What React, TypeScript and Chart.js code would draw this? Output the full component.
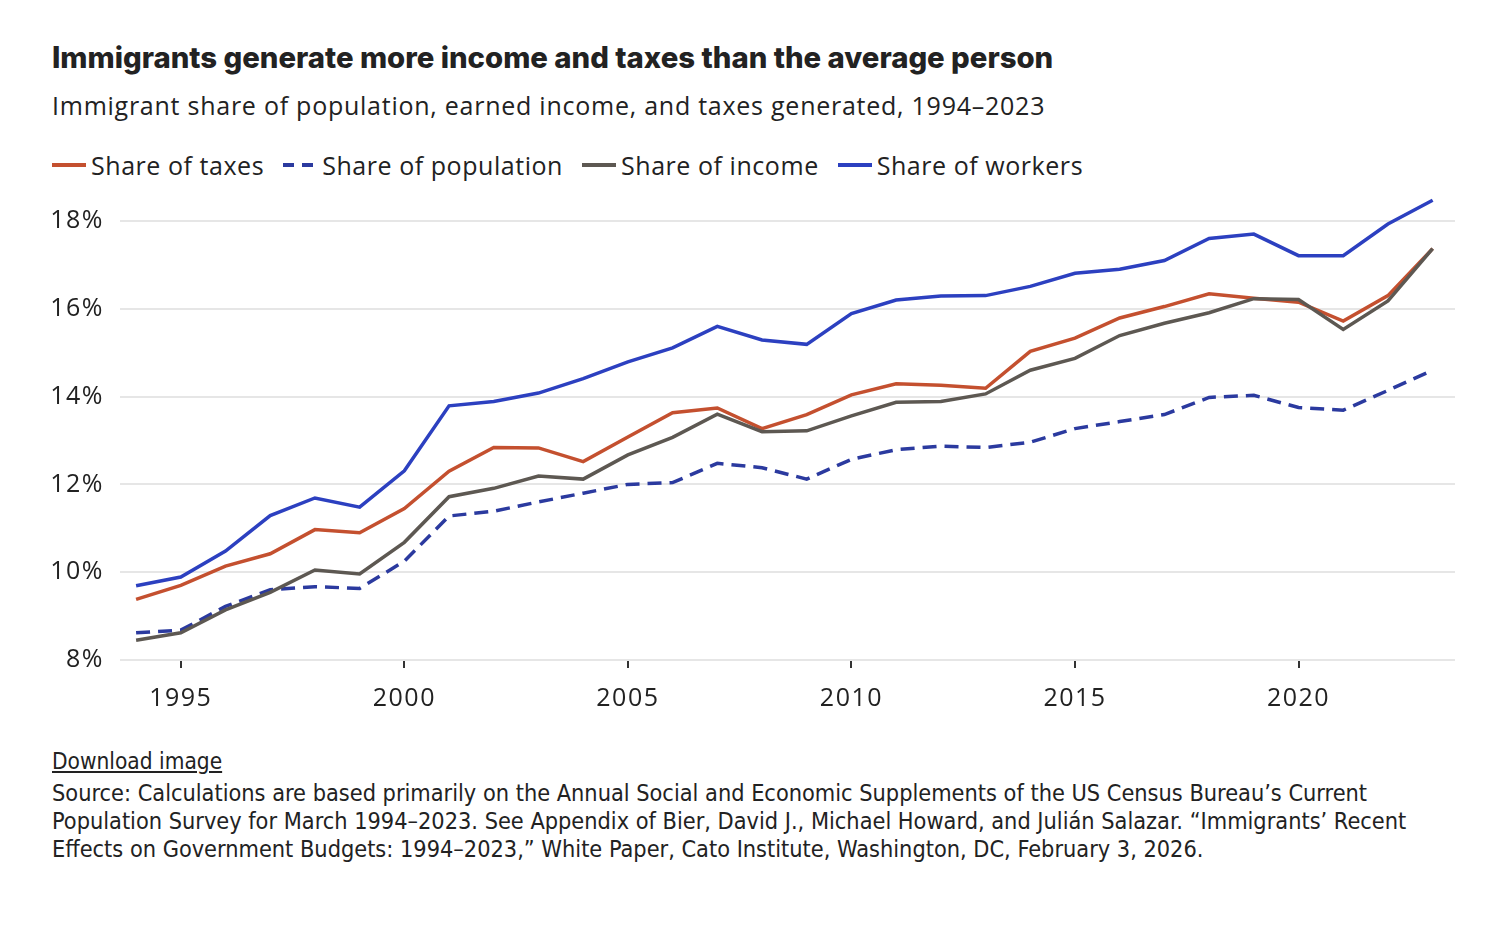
import { useEffect, useRef } from "react";
import { Chart, registerables } from "chart.js";

Chart.register(...registerables);

const years = [1994, 1995, 1996, 1997, 1998, 1999, 2000, 2001, 2002, 2003, 2004, 2005, 2006, 2007, 2008, 2009, 2010, 2011, 2012, 2013, 2014, 2015, 2016, 2017, 2018, 2019, 2020, 2021, 2022, 2023];
const shareOfTaxes = [9.38, 9.7, 10.14, 10.42, 10.97, 10.9, 11.45, 12.3, 12.84, 12.83, 12.52, 13.08, 13.63, 13.74, 13.27, 13.59, 14.04, 14.29, 14.26, 14.19, 15.03, 15.33, 15.79, 16.05, 16.34, 16.24, 16.15, 15.72, 16.3, 17.37];
const shareOfPopulation = [8.62, 8.68, 9.22, 9.6, 9.67, 9.63, 10.25, 11.28, 11.39, 11.6, 11.8, 12.0, 12.04, 12.48, 12.38, 12.12, 12.57, 12.79, 12.87, 12.84, 12.96, 13.27, 13.43, 13.59, 13.98, 14.03, 13.75, 13.69, 14.14, 14.6];
const shareOfIncome = [8.45, 8.62, 9.14, 9.54, 10.05, 9.96, 10.68, 11.72, 11.91, 12.19, 12.12, 12.67, 13.07, 13.6, 13.2, 13.22, 13.56, 13.87, 13.89, 14.06, 14.6, 14.87, 15.39, 15.67, 15.91, 16.23, 16.21, 15.53, 16.18, 17.37];
const shareOfWorkers = [9.69, 9.89, 10.48, 11.29, 11.69, 11.48, 12.31, 13.79, 13.89, 14.08, 14.41, 14.79, 15.11, 15.6, 15.29, 15.19, 15.89, 16.2, 16.29, 16.3, 16.51, 16.81, 16.9, 17.1, 17.6, 17.7, 17.21, 17.21, 17.93, 18.47];
const xTicks = [1995, 2000, 2005, 2010, 2015, 2020];
const yTicks = [8, 10, 12, 14, 16, 18];

const RED = "#c4502f";
const NAVY = "#2b3a9f";
const GRAY = "#5d5852";
const BLUE = "#2c40c0";

const FONT = "'Open Sans', Roboto, sans-serif";
const NARROW = "'Liberation Sans Narrow', 'DejaVu Sans Condensed', sans-serif";

const pts = (vals: number[]) => years.map((y, i) => ({ x: y, y: vals[i] }));

// Chart.js has no letter-spacing option; widen the tick text a little
const spacing = {
  id: "spacing",
  beforeDraw(chart: any) { chart.ctx.letterSpacing = "1.5px"; },
};

function LegendItem({ color, dashed, label }: { color: string; dashed?: boolean; label: string }) {
  return (
    <span style={{ display: "inline-flex", alignItems: "center", marginRight: 19 }}>
      {dashed ? (
        <span style={{ display: "inline-flex", width: 32, marginRight: 7 }}>
          <span style={{ width: 11, height: 4, background: color, marginRight: 8 }} />
          <span style={{ width: 11, height: 4, background: color }} />
        </span>
      ) : (
        <span style={{ width: 34, height: 4, background: color, marginRight: 5 }} />
      )}
      {label}
    </span>
  );
}

export default function App() {
  const canvasRef = useRef<HTMLCanvasElement>(null);
  const chartRef = useRef<Chart | null>(null);

  useEffect(() => {
    if (!canvasRef.current) return;
    chartRef.current?.destroy();

    const line = (label: string, vals: number[], color: string, dash: number[] = []) => ({
      label,
      data: pts(vals),
      borderColor: color,
      backgroundColor: color,
      borderWidth: 3.5,
      borderDash: dash,
      pointRadius: 0,
      tension: 0,
      clip: false as const,
    });

    chartRef.current = new Chart(canvasRef.current, {
      type: "line",
      data: {
        datasets: [
          line("Share of income", shareOfIncome, GRAY),
          line("Share of population", shareOfPopulation, NAVY, [14, 8]),
          line("Share of taxes", shareOfTaxes, RED),
          line("Share of workers", shareOfWorkers, BLUE),
        ],
      },
      options: {
        animation: false,
        responsive: true,
        maintainAspectRatio: false,
        layout: { padding: { top: 0, right: 25, left: 0, bottom: 0 } },
        plugins: { legend: { display: false }, tooltip: { enabled: false } },
        scales: {
          x: {
            type: "linear",
            min: 1993.64,
            max: 2023.5,
            afterBuildTicks: (s: any) => { s.ticks = xTicks.map((v) => ({ value: v })); },
            afterFit: (s: any) => { s.height = 70; },
            ticks: {
              callback: (v: any) => String(v),
              font: { family: FONT, size: 25 },
              color: "#222",
              padding: 16,
              maxRotation: 0,
            },
            grid: { drawOnChartArea: false, drawTicks: true, tickLength: 8, color: "#333", lineWidth: 2 },
            border: { display: false },
          },
          y: {
            min: 8,
            max: 18.5,
            afterBuildTicks: (s: any) => { s.ticks = yTicks.map((v) => ({ value: v })); },
            afterFit: (s: any) => { s.width = 80; },
            ticks: {
              callback: (v: any) => v + "%",
              font: { family: FONT, size: 25 },
              color: "#222",
              padding: 16,
            },
            grid: { color: "#e6e6e6", lineWidth: 2, drawTicks: false },
            border: { display: false },
          },
        },
      },
      plugins: [spacing],
    });

    return () => { chartRef.current?.destroy(); };
  }, []);

  return (
    <div style={{ position: "absolute", left: 0, top: 0, width: 1508, height: 930, background: "#fff", fontFamily: FONT, color: "#222" }}>
      <div style={{ position: "absolute", left: 52, top: 40, fontSize: 29.3, fontWeight: 800, fontFamily: "Inter, Roboto, sans-serif", whiteSpace: "nowrap" }}>
        Immigrants generate more income and taxes than the average person
      </div>
      <div style={{ position: "absolute", left: 52, top: 88, fontSize: 25, letterSpacing: 0.75, whiteSpace: "nowrap" }}>
        Immigrant share of population, earned income, and taxes generated, 1994–2023
      </div>
      <div style={{ position: "absolute", left: 52, top: 148, fontSize: 25, letterSpacing: 0.55, whiteSpace: "nowrap", display: "flex" }}>
        <LegendItem color={RED} label="Share of taxes" />
        <LegendItem color={NAVY} dashed label="Share of population" />
        <LegendItem color={GRAY} label="Share of income" />
        <LegendItem color={BLUE} label="Share of workers" />
      </div>
      <div style={{ position: "absolute", left: 40, top: 168, width: 1440, height: 562 }}>
        <canvas ref={canvasRef} />
      </div>
      <div style={{ position: "absolute", left: 52, top: 748, fontSize: 22.5, fontFamily: NARROW, textDecoration: "underline", whiteSpace: "nowrap" }}>
        Download image
      </div>
      <div style={{ position: "absolute", left: 52, top: 779, fontSize: 23.3, lineHeight: "28px", fontFamily: NARROW, whiteSpace: "nowrap" }}>
        Source: Calculations are based primarily on the Annual Social and Economic Supplements of the US Census Bureau’s Current<br />
        Population Survey for March 1994–2023. See Appendix of Bier, David J., Michael Howard, and Julián Salazar. “Immigrants’ Recent<br />
        Effects on Government Budgets: 1994–2023,” White Paper, Cato Institute, Washington, DC, February 3, 2026.
      </div>
    </div>
  );
}
